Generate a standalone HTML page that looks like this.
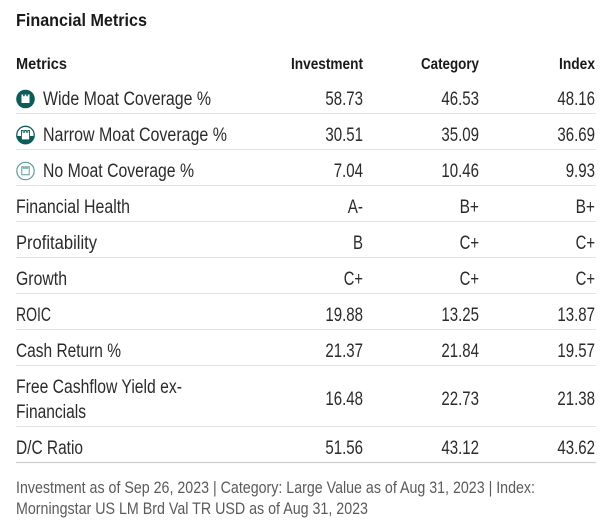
<!DOCTYPE html>
<html>
<head>
<meta charset="utf-8">
<style>
html,body{margin:0;padding:0;background:#fff;}
svg{display:block;}
text{font-family:"Liberation Sans",Arial,sans-serif;}
.t{font-size:17.5px;font-weight:bold;fill:#1a1a1a;}
.h{font-size:16px;font-weight:bold;fill:#1a1a1a;}
.b{font-size:19px;fill:#2b2b2b;}
.f{font-size:17px;fill:#5a5a5a;}
</style>
</head>
<body>
<svg width="604" height="525" viewBox="0 0 604 525" xmlns="http://www.w3.org/2000/svg">
<rect width="604" height="525" fill="#fff"/>

<!-- Title -->
<text class="t" x="16" y="26" textLength="131" lengthAdjust="spacingAndGlyphs">Financial Metrics</text>

<!-- Header -->
<text class="h" x="16" y="69" textLength="51" lengthAdjust="spacingAndGlyphs">Metrics</text>
<text class="h" x="291" y="69" textLength="72" lengthAdjust="spacingAndGlyphs">Investment</text>
<text class="h" x="421" y="69" textLength="58" lengthAdjust="spacingAndGlyphs">Category</text>
<text class="h" x="559" y="69" textLength="36" lengthAdjust="spacingAndGlyphs">Index</text>

<!-- Row separators -->
<g stroke="#e2e2e2" stroke-width="1">
<line x1="16" x2="596" y1="113.5" y2="113.5"/>
<line x1="16" x2="596" y1="149.5" y2="149.5"/>
<line x1="16" x2="596" y1="185.5" y2="185.5"/>
<line x1="16" x2="596" y1="221.5" y2="221.5"/>
<line x1="16" x2="596" y1="257.5" y2="257.5"/>
<line x1="16" x2="596" y1="293.5" y2="293.5"/>
<line x1="16" x2="596" y1="329.5" y2="329.5"/>
<line x1="16" x2="596" y1="365.5" y2="365.5"/>
<line x1="16" x2="596" y1="426.5" y2="426.5"/>
</g>
<line x1="16" x2="596" y1="462.5" y2="462.5" stroke="#cfcfcf" stroke-width="1.2"/>

<!-- Icons -->
<defs>
<clipPath id="lowhalf"><rect x="14" y="136" width="24" height="12"/></clipPath>
</defs>
<!-- Wide moat -->
<circle cx="25.5" cy="99" r="9.3" fill="#0d5c5a"/>
<polygon points="21.5,94.5 23.2,94.5 23.2,96.2 24.7,96.2 24.7,94.5 26.3,94.5 26.3,96.2 27.8,96.2 27.8,94.5 29.5,94.5 29.5,103 21.5,103" fill="#fff"/>
<!-- Narrow moat -->
<circle cx="25.5" cy="135" r="8.7" fill="#fff" stroke="#0d5c5a" stroke-width="1.3"/>
<circle cx="25.5" cy="135" r="9.3" fill="#0d5c5a" clip-path="url(#lowhalf)"/>
<polygon points="21.5,130.5 23.2,130.5 23.2,132.2 24.7,132.2 24.7,130.5 26.3,130.5 26.3,132.2 27.8,132.2 27.8,130.5 29.5,130.5 29.5,139 21.5,139" fill="#fff" stroke="#0d5c5a" stroke-width="0.9"/>
<rect x="21.9" y="135.5" width="7.2" height="3.9" fill="#fff"/>
<!-- No moat -->
<circle cx="25.5" cy="171" r="8.7" fill="#fff" stroke="#5f9e9b" stroke-width="1.2"/>
<polygon points="21.8,166.8 23.3,166.8 23.3,168.3 24.8,168.3 24.8,166.8 26.2,166.8 26.2,168.3 27.7,168.3 27.7,166.8 29.2,166.8 29.2,174.8 21.8,174.8" fill="none" stroke="#5f9e9b" stroke-width="1"/>

<!-- Row labels -->
<text class="b" x="43" y="105" textLength="168" lengthAdjust="spacingAndGlyphs">Wide Moat Coverage %</text>
<text class="b" x="43" y="141" textLength="184" lengthAdjust="spacingAndGlyphs">Narrow Moat Coverage %</text>
<text class="b" x="43" y="177" textLength="151" lengthAdjust="spacingAndGlyphs">No Moat Coverage %</text>
<text class="b" x="16" y="213" textLength="114" lengthAdjust="spacingAndGlyphs">Financial Health</text>
<text class="b" x="16" y="249" textLength="81" lengthAdjust="spacingAndGlyphs">Profitability</text>
<text class="b" x="16" y="285" textLength="51" lengthAdjust="spacingAndGlyphs">Growth</text>
<text class="b" x="16" y="321" textLength="35" lengthAdjust="spacingAndGlyphs">ROIC</text>
<text class="b" x="16" y="357" textLength="105" lengthAdjust="spacingAndGlyphs">Cash Return %</text>
<text class="b" x="16" y="393" textLength="166" lengthAdjust="spacingAndGlyphs">Free Cashflow Yield ex-</text>
<text class="b" x="16" y="418" textLength="70" lengthAdjust="spacingAndGlyphs">Financials</text>
<text class="b" x="16" y="454" textLength="67" lengthAdjust="spacingAndGlyphs">D/C Ratio</text>

<!-- row 0 -->
<text class="b" x="325.4" y="105" textLength="37.6" lengthAdjust="spacingAndGlyphs">58.73</text>
<text class="b" x="441.4" y="105" textLength="37.6" lengthAdjust="spacingAndGlyphs">46.53</text>
<text class="b" x="557.4" y="105" textLength="37.6" lengthAdjust="spacingAndGlyphs">48.16</text>
<!-- row 1 -->
<text class="b" x="325.4" y="141" textLength="37.6" lengthAdjust="spacingAndGlyphs">30.51</text>
<text class="b" x="441.4" y="141" textLength="37.6" lengthAdjust="spacingAndGlyphs">35.09</text>
<text class="b" x="557.4" y="141" textLength="37.6" lengthAdjust="spacingAndGlyphs">36.69</text>
<!-- row 2 -->
<text class="b" x="333.7" y="177" textLength="29.3" lengthAdjust="spacingAndGlyphs">7.04</text>
<text class="b" x="441.4" y="177" textLength="37.6" lengthAdjust="spacingAndGlyphs">10.46</text>
<text class="b" x="565.7" y="177" textLength="29.3" lengthAdjust="spacingAndGlyphs">9.93</text>
<!-- row 3 -->
<text class="b" x="347.8" y="213" textLength="15.2" lengthAdjust="spacingAndGlyphs">A-</text>
<text class="b" x="459.6" y="213" textLength="19.4" lengthAdjust="spacingAndGlyphs">B+</text>
<text class="b" x="575.6" y="213" textLength="19.4" lengthAdjust="spacingAndGlyphs">B+</text>
<!-- row 4 -->
<text class="b" x="353" y="249" textLength="10" lengthAdjust="spacingAndGlyphs">B</text>
<text class="b" x="459.6" y="249" textLength="19.4" lengthAdjust="spacingAndGlyphs">C+</text>
<text class="b" x="575.6" y="249" textLength="19.4" lengthAdjust="spacingAndGlyphs">C+</text>
<!-- row 5 -->
<text class="b" x="343.8" y="285" textLength="19.2" lengthAdjust="spacingAndGlyphs">C+</text>
<text class="b" x="459.6" y="285" textLength="19.4" lengthAdjust="spacingAndGlyphs">C+</text>
<text class="b" x="575.6" y="285" textLength="19.4" lengthAdjust="spacingAndGlyphs">C+</text>
<!-- row 6 -->
<text class="b" x="325.4" y="321" textLength="37.6" lengthAdjust="spacingAndGlyphs">19.88</text>
<text class="b" x="441.4" y="321" textLength="37.6" lengthAdjust="spacingAndGlyphs">13.25</text>
<text class="b" x="557.4" y="321" textLength="37.6" lengthAdjust="spacingAndGlyphs">13.87</text>
<!-- row 7 -->
<text class="b" x="325.4" y="357" textLength="37.6" lengthAdjust="spacingAndGlyphs">21.37</text>
<text class="b" x="441.4" y="357" textLength="37.6" lengthAdjust="spacingAndGlyphs">21.84</text>
<text class="b" x="557.4" y="357" textLength="37.6" lengthAdjust="spacingAndGlyphs">19.57</text>
<!-- FCF -->
<text class="b" x="325.4" y="405" textLength="37.6" lengthAdjust="spacingAndGlyphs">16.48</text>
<text class="b" x="441.4" y="405" textLength="37.6" lengthAdjust="spacingAndGlyphs">22.73</text>
<text class="b" x="557.4" y="405" textLength="37.6" lengthAdjust="spacingAndGlyphs">21.38</text>
<!-- D/C -->
<text class="b" x="325.4" y="454" textLength="37.6" lengthAdjust="spacingAndGlyphs">51.56</text>
<text class="b" x="441.4" y="454" textLength="37.6" lengthAdjust="spacingAndGlyphs">43.12</text>
<text class="b" x="557.4" y="454" textLength="37.6" lengthAdjust="spacingAndGlyphs">43.62</text>

<!-- Footer -->
<text class="f" x="16" y="493" textLength="519" lengthAdjust="spacingAndGlyphs">Investment as of Sep 26, 2023 | Category: Large Value as of Aug 31, 2023 | Index:</text>
<text class="f" x="16" y="514" textLength="352" lengthAdjust="spacingAndGlyphs">Morningstar US LM Brd Val TR USD as of Aug 31, 2023</text>
</svg>
</body>
</html>
